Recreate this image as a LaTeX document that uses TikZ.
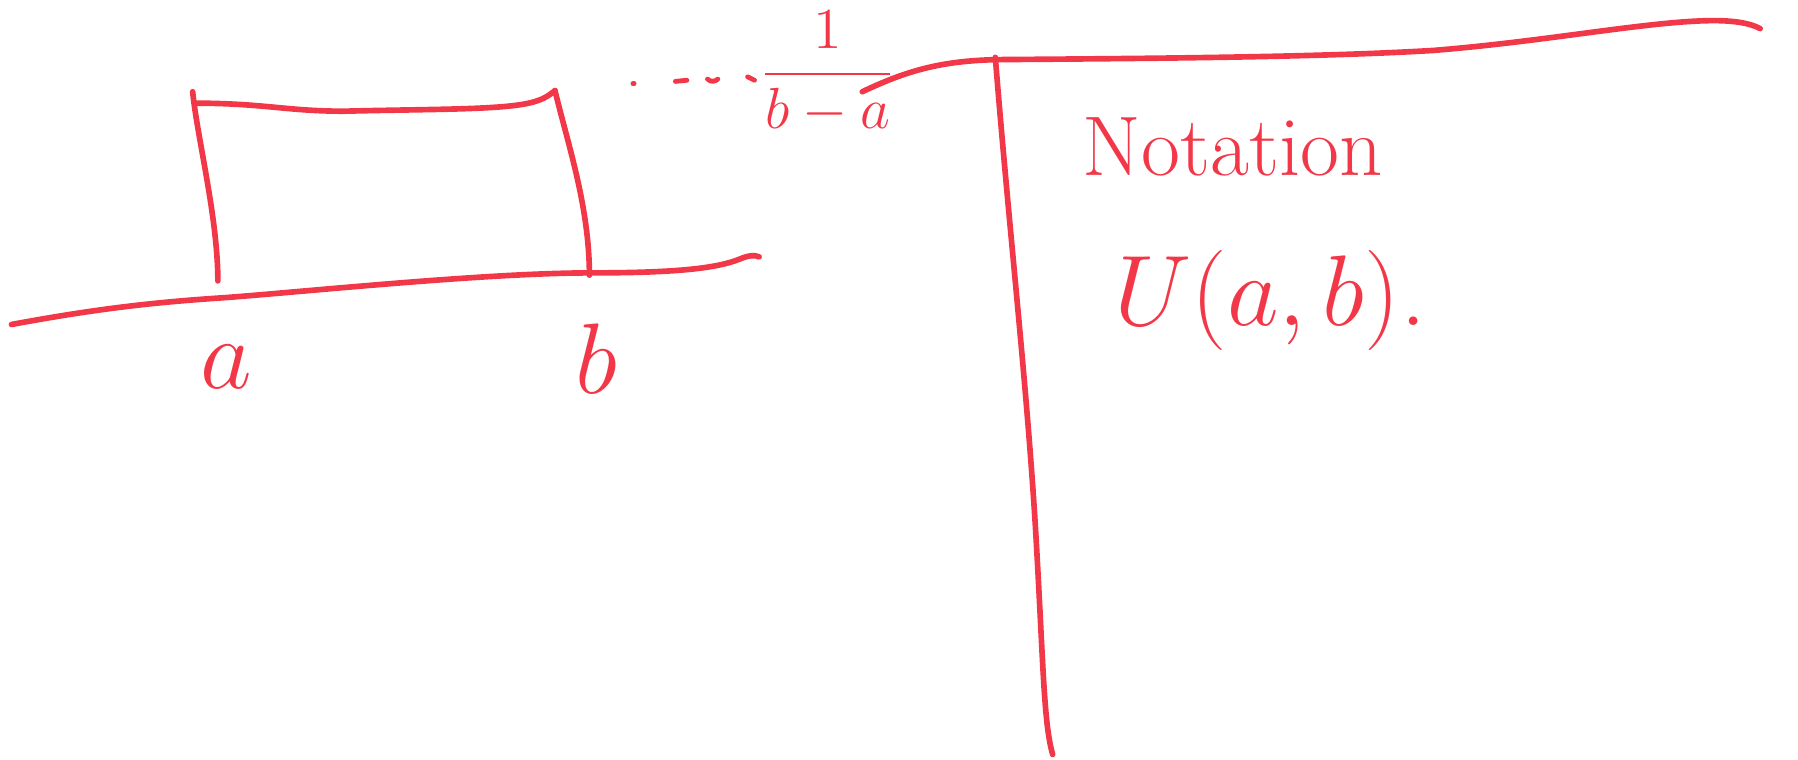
\documentclass[tikz,border=0pt]{standalone}
\usepackage{fontspec}
\definecolor{ink}{RGB}{242,56,72}
\begin{document}
\begin{tikzpicture}[x=0.01cm, y=-0.01cm, line cap=round, line join=round,
  pen/.style={draw=ink, line width=1.4pt},
  thinpen/.style={draw=ink, line width=1.2pt},
  lbl/.style={text=ink, inner sep=0pt, anchor=center}]
\useasboundingbox (0,0) rectangle (1568,662);

% horizontal axis of the density plot
\draw[pen] (10,283) .. controls (80,270) and (130,264) .. (190,260)
  .. controls (250,256) and (420,238) .. (515,238)
  .. controls (590,238) and (625,234) .. (645,226)
  .. controls (652,223) and (658,222) .. (662,224);

% the box of the uniform density
\coordinate (tl) at (168,80);
\coordinate (bl) at (190,245);
\coordinate (tr) at (484,79);
\coordinate (br) at (514,240);
\draw[pen] (tl) .. controls (172,120) and (190,190) .. (bl);
\draw[pen] (170,90) .. controls (230,90) and (250,97) .. (300,97)
  .. controls (380,95) and (440,96) .. (465,89) .. controls (476,86) and (480,82) .. (tr);
\draw[pen] (tr) .. controls (495,125) and (514,180) .. (br);

% end-point labels
\node[lbl, font=\fontsize{24}{28}\selectfont] (lblA) at (197,320) {$a$};
\node[lbl, font=\fontsize{24}{28}\selectfont] (lblB) at (520,313) {$b$};

% dotted leader to the height of the box
\draw[thinpen] (552,73) -- (553,73);
\draw[thinpen] (589,71) -- (599,70);
\draw[thinpen] (617,69) .. controls (620,72) and (624,71) .. (626,69);
\draw[thinpen] (652,67) -- (658,70);

% height of the density
\node[lbl, font=\fontsize{14}{17}\selectfont] (dens) at (722,63) {$\displaystyle\frac{1}{b-a}$};

% dividing frame
\coordinate (topL) at (752,80);
\coordinate (topR) at (1535,25);
\coordinate (vtop) at (868,50);
\coordinate (vbot) at (918,658);
\draw[pen] (topL) .. controls (790,62) and (820,53) .. (870,52)
  .. controls (1000,51) and (1150,50) .. (1250,44)
  .. controls (1350,36) and (1440,18) .. (1495,18)
  .. controls (1515,18) and (1528,21) .. (topR);
\draw[pen] (vtop) .. controls (880,200) and (895,330) .. (903,460)
  .. controls (910,580) and (910,630) .. (vbot);

% notation for the distribution
\node[lbl, font=\fontsize{21}{25}\selectfont] (notation) at (1075,128) {Notation};
\node[lbl, font=\fontsize{26}{30}\selectfont] (unif) at (1108,262) {$U(a,b)$.};
\end{tikzpicture}
\end{document}
